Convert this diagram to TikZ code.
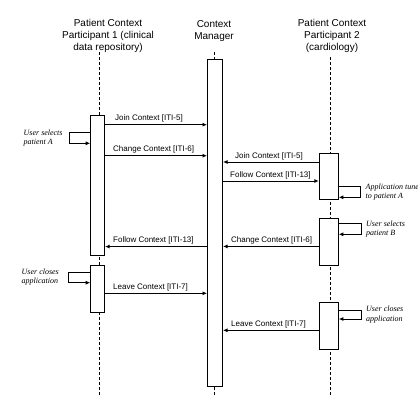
\documentclass[tikz,border=0pt]{standalone}
\usepackage{fontspec}
\setmainfont{Liberation Sans}
\newfontfamily\notefont{Liberation Serif}
\usetikzlibrary{arrows.meta}
\begin{document}
\begin{tikzpicture}[x=1pt,y=-1pt,
  title/.style={font=\fontsize{10}{12}\selectfont, align=center, inner sep=0pt, anchor=north},
  life/.style={line width=0.9pt, dash pattern=on 3pt off 2pt},
  actbox/.style={draw, fill=white, line width=1pt, inner sep=0pt},
  msg/.style={line width=1pt, -{Latex[length=4.5pt,width=4pt]}},
  msglabel/.style={font=\fontsize{8}{9.6}\selectfont, inner sep=0pt},
  note/.style={font=\notefont\itshape\fontsize{8}{9.5}\selectfont, align=left, inner sep=0pt, anchor=north west}]
\useasboundingbox (0,0) rectangle (418,416);
\fill[white] (0,0) rectangle (418,416);

% titles
\node[title] (t1) at (108,19.3) {Patient Context\\Participant 1 (clinical\\data repository)};
\node[title] (t2) at (214,20.3) {Context\\Manager};
\node[title] (t3) at (332,19.3) {Patient Context\\Participant 2\\(cardiology)};

% lifelines
\coordinate (l1top) at (99,52);   \coordinate (l1bot) at (99,396);
\coordinate (l2top) at (214.5,52); \coordinate (l2bot) at (214.5,396);
\coordinate (l3top) at (330.7,57); \coordinate (l3bot) at (330.7,396);
\draw[life] (l1top) -- (l1bot);
\draw[life] (l2top) -- (l2bot);
\draw[life] (l3top) -- (l3bot);

% activation boxes
\node[actbox, minimum width=13.8pt, minimum height=140.4pt] (a1) at (97.6,185.5) {};
\node[actbox, minimum width=13.8pt, minimum height=47pt] (a2) at (97.6,288.8) {};
\node[actbox, minimum width=15pt, minimum height=327pt] (cm) at (215,222.8) {};
\node[actbox, minimum width=19pt, minimum height=46.3pt] (b1) at (328.8,176.15) {};
\node[actbox, minimum width=19pt, minimum height=46.7pt] (b2) at (328.8,241.65) {};
\node[actbox, minimum width=19pt, minimum height=47pt] (b3) at (328.8,325.8) {};

% message levels
\coordinate (y1) at (0,124.7);
\coordinate (y2) at (0,155.7);
\coordinate (y3) at (0,162);
\coordinate (y4) at (0,181);
\coordinate (y5) at (0,246.4);
\coordinate (y6) at (0,246.6);
\coordinate (y7) at (0,293.3);
\coordinate (y8) at (0,330.3);

% messages
\draw[msg] (a1.east |- y1) -- (cm.west |- y1);
\node[msglabel, anchor=base west] (m1) at (115,120.7) {Join Context [ITI-5]};
\draw[msg] (a1.east |- y2) -- (cm.west |- y2);
\node[msglabel, anchor=base west] (m2) at (113,151.5) {Change Context [ITI-6]};
\draw[msg] (b1.west |- y3) -- (cm.east |- y3);
\node[msglabel, anchor=base west] (m3) at (235,158) {Join Context [ITI-5]};
\draw[msg] (cm.east |- y4) -- (b1.west |- y4);
\node[msglabel, anchor=base west] (m4) at (230,177) {Follow Context [ITI-13]};
\draw[msg] (b2.west |- y5) -- (cm.east |- y5);
\node[msglabel, anchor=base west] (m5) at (231,242.4) {Change Context [ITI-6]};
\draw[msg] (cm.west |- y6) -- (a1.east |- y6);
\node[msglabel, anchor=base west] (m6) at (113,242.6) {Follow Context [ITI-13]};
\draw[msg] (a2.east |- y7) -- (cm.west |- y7);
\node[msglabel, anchor=base west] (m7) at (113,289.3) {Leave Context [ITI-7]};
\draw[msg] (b3.west |- y8) -- (cm.east |- y8);
\node[msglabel, anchor=base west] (m8) at (231,326.3) {Leave Context [ITI-7]};

% self calls
\coordinate (s1a) at (0,132.3); \coordinate (s1c) at (69,143.3);
\draw[msg] (a1.west |- s1a) -| (s1c) -- (a1.west |- s1c);
\node[note] (n1) at (23.5,129.5) {User selects\\patient A};

\coordinate (s2a) at (0,186.7); \coordinate (s2c) at (360.7,197.3);
\draw[msg] (b1.east |- s2a) -| (s2c) -- (b1.east |- s2c);
\node[note] (n2) at (365.5,183.5) {Application tunes\\to patient A};

\coordinate (s3a) at (0,223.3); \coordinate (s3c) at (361,234.3);
\draw[msg] (b2.east |- s3a) -| (s3c) -- (b2.east |- s3c);
\node[note] (n3) at (366,220.5) {User selects\\patient B};

\coordinate (s4a) at (0,272.3); \coordinate (s4c) at (68,282.7);
\draw[msg] (a2.west |- s4a) -| (s4c) -- (a2.west |- s4c);
\node[note] (n4) at (21.5,268.5) {User closes\\application};

\coordinate (s5a) at (0,310.3); \coordinate (s5c) at (361,319);
\draw[msg] (b3.east |- s5a) -| (s5c) -- (b3.east |- s5c);
\node[note] (n5) at (366,305.8) {User closes\\application};
\end{tikzpicture}
\end{document}
